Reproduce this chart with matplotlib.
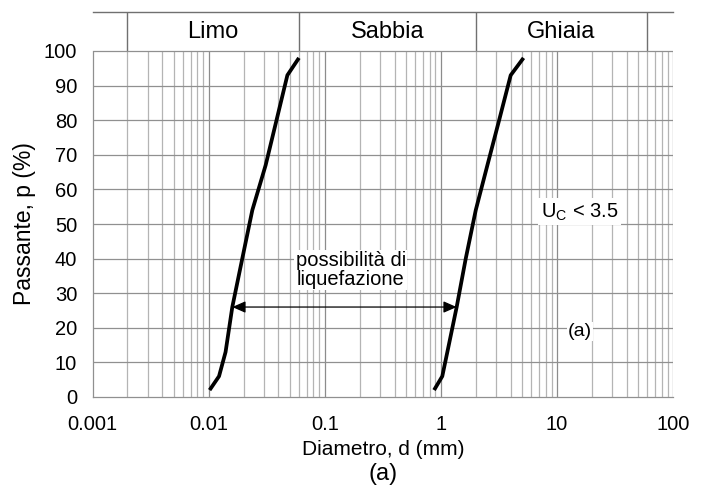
import matplotlib
matplotlib.use("Agg")
import matplotlib.pyplot as plt
import numpy as np

plt.rcParams['font.family'] = ['Liberation Sans', 'DejaVu Sans']
plt.rcParams['mathtext.fontset'] = 'custom'
plt.rcParams['mathtext.rm'] = 'Liberation Sans'
plt.rcParams['mathtext.it'] = 'Liberation Sans'

# Data
d_left = [0.0102, 0.0123, 0.0140, 0.0160, 0.0195, 0.0238, 0.031, 0.0391, 0.0477, 0.060]
p_left = [2, 6, 13, 26, 40, 54, 67, 81, 93, 98]
d_right = [0.875, 1.03, 1.18, 1.37, 1.64, 2.0, 2.52, 3.18, 4.0, 5.16]
p_right = [2, 6, 15.5, 26, 40, 54, 67, 80, 93, 98]

band_bounds = [0.002, 0.06, 2, 60]
band_labels = ["Limo", "Sabbia", "Ghiaia"]
x_ticks = [0.001, 0.01, 0.1, 1, 10, 100]
x_ticklabels = ["0.001", "0.01", "0.1", "1", "10", "100"]
y_ticks = list(range(0, 101, 10))

arrow_p = 26
arrow_d = [0.016, 1.37]

fig = plt.figure(figsize=(7.07, 4.91), dpi=100)
L, R = 92.5 / 707, 673 / 707
B, T = 1 - 397 / 491, 1 - 51 / 491
BT = 1 - 12 / 491
ax = fig.add_axes([L, B, R - L, T - B])
axb = fig.add_axes([L, T, R - L, BT - T])

ax.set_xscale('log')
ax.set_xlim(0.001, 100)
ax.set_ylim(0, 100)

# grid
for dec in [0.001, 0.01, 0.1, 1, 10]:
    for m in range(1, 10):
        x = dec * m
        if x <= 0.001:
            continue
        ax.axvline(x, color='#8c8c8c' if m == 1 else '#b4b4b4', lw=0.9, zorder=1)
ax.axvline(100, color='#8c8c8c', lw=0.9, zorder=1)
for y in y_ticks[1:]:
    ax.axhline(y, color='#909090', lw=0.9, zorder=1)

for s in ['top', 'right']:
    ax.spines[s].set_visible(False)
for s in ['left', 'bottom']:
    ax.spines[s].set_color('#909090')
    ax.spines[s].set_linewidth(0.9)

ax.set_xticks(x_ticks)
ax.set_xticklabels(x_ticklabels)
ax.xaxis.set_minor_locator(matplotlib.ticker.NullLocator())
ax.set_yticks(y_ticks)
ax.tick_params(axis='both', length=0, labelsize=14.5)
ax.tick_params(axis='x', pad=13)
ax.tick_params(axis='y', pad=11)
ax.set_xlabel("Diametro, d (mm)", fontsize=15, labelpad=4)
ax.set_ylabel("Passante, p (%)", fontsize=16.5, labelpad=6)

ax.plot(d_left, p_left, color='black', lw=2.7, zorder=3, solid_capstyle='butt')
ax.plot(d_right, p_right, color='black', lw=2.7, zorder=3, solid_capstyle='butt')

ax.annotate('', xy=(arrow_d[0], arrow_p), xytext=(arrow_d[1], arrow_p),
            arrowprops=dict(arrowstyle='<|-|>,head_length=0.8,head_width=0.35',
                            color='black', lw=0.9, shrinkA=0, shrinkB=0), zorder=4)

ax.text(0.168, 36.7, "possibilità di\nliquefazione", fontsize=14.5, ha='center', va='center',
        linespacing=1.0, zorder=2,
        bbox=dict(facecolor='white', edgecolor='none', pad=1))
ax.text(15.8, 53.5, r"U$_\mathrm{C}$ < 3.5", fontsize=14.5, ha='center', va='center', zorder=2,
        bbox=dict(facecolor='white', edgecolor='none', pad=2))
ax.text(15.8, 19, "(a)", fontsize=14, ha='center', va='center', zorder=2,
        bbox=dict(facecolor='white', edgecolor='none', pad=0.5))

# top band
axb.set_xscale('log')
axb.set_xlim(0.001, 100)
axb.set_ylim(0, 1)
axb.set_xticks([])
axb.set_yticks([])
axb.xaxis.set_minor_locator(matplotlib.ticker.NullLocator())
for s in ['left', 'right', 'bottom']:
    axb.spines[s].set_visible(False)
axb.spines['top'].set_color('#707070')
axb.spines['top'].set_linewidth(1.0)
for b in band_bounds:
    axb.axvline(b, color='#707070', lw=1.0)
axb.axhline(0, color='#909090', lw=0.9)
for i, lab in enumerate(band_labels):
    xc = np.sqrt(band_bounds[i] * band_bounds[i + 1])
    axb.text(xc, 0.5, lab, fontsize=17, ha='center', va='center')

fig.text((L + R) / 2, 1 - 474 / 491, "(a)", fontsize=17, ha='center', va='center')

fig.savefig("out.png", dpi=100)
